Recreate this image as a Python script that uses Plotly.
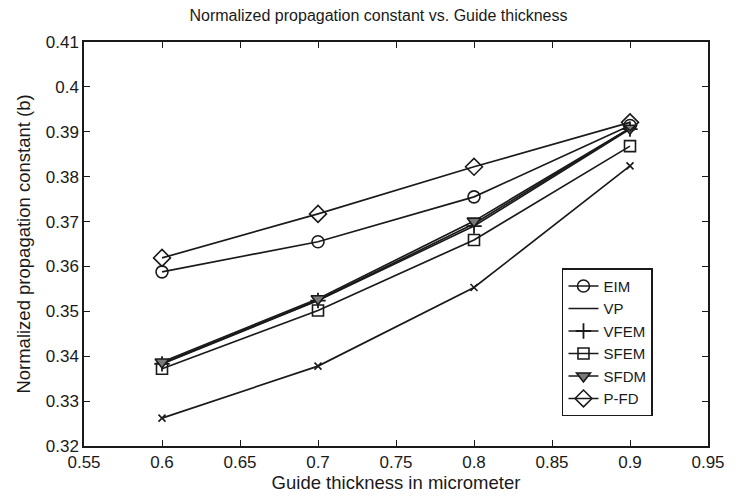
import plotly.graph_objects as go

# guide thickness (micrometer)
thickness = [0.6, 0.7, 0.8, 0.9]

# normalized propagation constant b
eim = [0.3588, 0.3655, 0.3755, 0.3914]
vp = [0.3384, 0.3525, 0.3695, 0.3908]
vfem = [0.3383, 0.3524, 0.3690, 0.3906]
sfem = [0.3372, 0.3502, 0.3659, 0.3868]
sfdm = [0.3387, 0.3528, 0.3701, 0.3908]
pfd = [0.3619, 0.3717, 0.3822, 0.3921]
other = [0.3262, 0.3378, 0.3553, 0.3824]

ink = '#1a1a1a'
font_family = 'Liberation Sans, Arial, Helvetica, sans-serif'

series = [
    ('EIM', eim, dict(symbol='circle-open', size=12, line=dict(width=1.6, color=ink)), True),
    ('VP', vp, None, True),
    ('VFEM', vfem, dict(symbol='cross-thin', size=11, line=dict(width=1.8, color=ink)), True),
    ('SFEM', sfem, dict(symbol='square-open', size=11, line=dict(width=1.6, color=ink)), True),
    ('SFDM', sfdm, dict(symbol='triangle-down', size=12, color='#7a7a7a', line=dict(width=1.6, color=ink)), True),
    ('P-FD', pfd, dict(symbol='diamond-open', size=13, line=dict(width=1.6, color=ink)), True),
    ('', other, dict(symbol='x-thin', size=7, line=dict(width=1.6, color=ink)), False),
]

fig = go.Figure()
for name, vals, marker, show in series:
    fig.add_trace(go.Scatter(
        x=thickness,
        y=vals,
        name=name,
        mode='lines+markers' if marker else 'lines',
        marker=marker,
        line=dict(color=ink, width=1.7),
        showlegend=show))

axis_style = dict(
    showgrid=False,
    zeroline=False,
    showline=True,
    linecolor=ink,
    linewidth=1.5,
    mirror='ticks',
    ticks='inside',
    ticklen=6,
    tickwidth=1.2,
    tickcolor=ink,
    tickfont=dict(size=17, color=ink),
)

fig.update_layout(
    width=741,
    height=498,
    paper_bgcolor='white',
    plot_bgcolor='white',
    font=dict(family=font_family, color=ink),
    margin=dict(l=76, r=41, t=34, b=60),
    title=dict(
        text='Normalized propagation constant vs. Guide thickness',
        x=0.5, xref='container', xanchor='center',
        y=1, yref='container', yanchor='top', pad=dict(t=2),
        font=dict(size=16, color=ink)),
    xaxis=dict(
        range=[0.55, 0.95], dtick=0.05, tick0=0.55,
        title=dict(text='Guide thickness in micrometer', font=dict(size=18.5), standoff=4),
        **axis_style),
    yaxis=dict(
        range=[0.32, 0.41], dtick=0.01, tick0=0.32,
        title=dict(text='Normalized propagation constant (b)', font=dict(size=18.5), standoff=10),
        **axis_style),
    legend=dict(
        x=0.766, y=0.44, xanchor='left', yanchor='top',
        bgcolor='white', bordercolor=ink, borderwidth=1.5,
        font=dict(size=15, color=ink),
        tracegroupgap=0, itemwidth=30),
)

fig.write_html("out.html")
